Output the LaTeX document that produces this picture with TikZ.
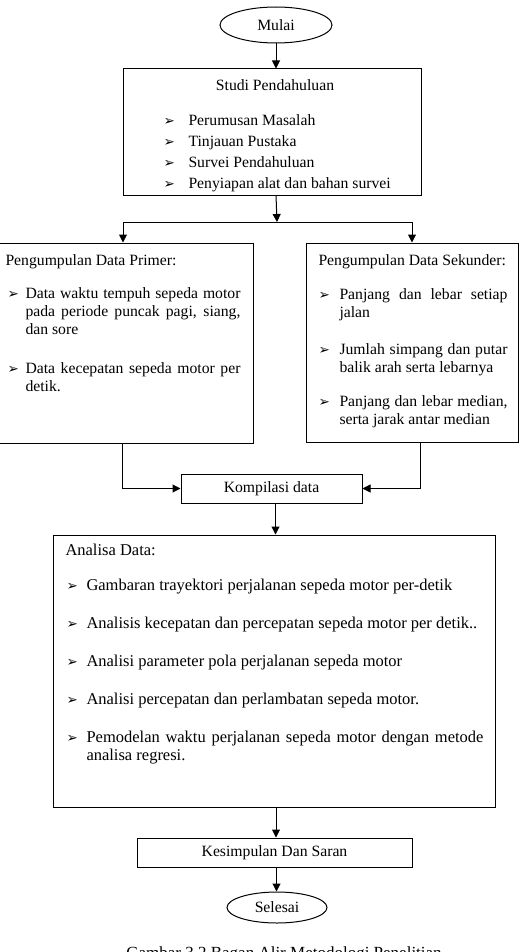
\documentclass[tikz,border=0pt]{standalone}
\usepackage{fontspec}
\setmainfont{Liberation Serif}
\newfontfamily\symfont{DejaVu Sans}
\usetikzlibrary{shapes.geometric,arrows.meta}

\setlength{\parindent}{0pt}
\newcommand{\arrbul}{{\symfont\fontsize{13.5}{13.5}\selectfont ➢}}
\newcommand{\butir}[3]{\hangindent=#1\hangafter=1\noindent\makebox[#1][l]{\hspace{#2}\arrbul}#3\par}

\begin{document}
\begin{tikzpicture}[x = 1pt, y = -1pt, line width = 1pt,
    font = \fontsize{15.7}{18}\selectfont,
    >= {Triangle[length = 8pt, width = 8pt]},
    kotak/.style = {draw, rectangle, inner sep = 0pt},
    oval/.style = {draw, ellipse, inner sep = 0pt},
    isi/.style = {anchor = north west, inner sep = 0pt, align = justify}]
    \useasboundingbox (0,0) rectangle (520,952);

    % kotak bagan
    \node[oval, minimum width = 112pt, minimum height = 36pt] (mulai) at (276,25) {Mulai};
    \node[kotak, minimum width = 298pt, minimum height = 126pt] (studi) at (272,132) {};
    \node[kotak, minimum width = 254pt, minimum height = 200pt] (primer) at (126,343) {};
    \node[kotak, minimum width = 212pt, minimum height = 199pt] (sekunder) at (412,342.5) {};
    \node[kotak, minimum width = 181pt, minimum height = 29pt] (kompilasi) at (271.5,488.5) {Kompilasi data};
    \node[kotak, minimum width = 442pt, minimum height = 272pt] (analisa) at (274,671) {};
    \node[kotak, minimum width = 275pt, minimum height = 29pt] (kesimpulan) at (274.5,852.5) {Kesimpulan Dan Saran};
    \node[oval, minimum width = 100pt, minimum height = 31pt] (selesai) at (277,907.5) {Selesai};

    % isi kotak
    \node[inner sep = 0pt] (studijudul) at (275,85) {Studi Pendahuluan};
    \node[isi, text width = 255pt, font = \fontsize{15.7}{21}\selectfont] (studiisi) at (162,114) {%
        \butir{26pt}{1pt}{Perumusan Masalah}%
        \butir{26pt}{1pt}{Tinjauan Pustaka}%
        \butir{26pt}{1pt}{Survei Pendahuluan}%
        \butir{26pt}{1pt}{Penyiapan alat dan bahan survei}};
    \node[isi, text width = 235pt] (primerisi) at (5,254) {%
        Pengumpulan Data Primer:\par\vspace{15pt}%
        \butir{20pt}{2pt}{Data waktu tempuh sepeda motor pada periode puncak pagi, siang, dan sore}\vspace{21pt}%
        \butir{20pt}{2pt}{Data kecepatan sepeda motor per detik.}};
    \node[isi, text width = 197pt] (sekunderisi) at (310,254) {%
        \hspace{8pt}Pengumpulan Data Sekunder:\par\vspace{16pt}%
        \butir{29pt}{8pt}{Panjang dan lebar setiap jalan}\vspace{19pt}%
        \butir{29pt}{8pt}{Jumlah simpang dan putar balik arah serta lebarnya}\vspace{16pt}%
        \butir{29pt}{8pt}{Panjang dan lebar median, serta jarak antar median}};
    \node[isi, text width = 418pt, font = \fontsize{16.5}{18}\selectfont] (analisaisi) at (65,544) {%
        Analisa Data:\par\vspace{17pt}%
        \butir{21pt}{1pt}{Gambaran trayektori perjalanan sepeda motor per-detik}\vspace{20pt}%
        \butir{21pt}{1pt}{Analisis kecepatan dan percepatan sepeda motor per detik..}\vspace{20pt}%
        \butir{21pt}{1pt}{Analisi parameter pola perjalanan sepeda motor}\vspace{20pt}%
        \butir{21pt}{1pt}{Analisi percepatan dan perlambatan sepeda motor.}\vspace{20pt}%
        \butir{21pt}{1pt}{Pemodelan waktu perjalanan sepeda motor dengan metode analisa regresi.}};
    \node[anchor = north, inner sep = 0pt, font = \fontsize{17}{20}\selectfont] (keterangan) at (284,946) {Gambar 3.2 Bagan Alir Metodologi Penelitian};

    % panah
    \coordinate (cabang) at (277,222);
    \coordinate (cabangkiri) at (123,222);
    \coordinate (cabangkanan) at (412,222);
    \draw[->] (mulai.south) -- (mulai.south |- studi.north);
    \draw[->] (mulai.south |- studi.south) -- (cabang);
    \draw (cabangkiri) -- (cabangkanan);
    \draw[->] (cabangkiri) -- (cabangkiri |- primer.north);
    \draw[->] (cabangkanan) -- (cabangkanan |- sekunder.north);
    \draw[->] ([xshift = -4pt]primer.south) |- (kompilasi.west);
    \draw[->] ([xshift = 8pt]sekunder.south) |- (kompilasi.east);
    \draw[->] ([xshift = 4pt]kompilasi.south) -- ([xshift = 4pt]kompilasi.south |- analisa.north);
    \draw[->] ([xshift = 2pt]analisa.south) -- ([xshift = 2pt]analisa.south |- kesimpulan.north);
    \draw[->] ([xshift = 2pt]kesimpulan.south) -- ([xshift = 2pt]kesimpulan.south |- selesai.north);
\end{tikzpicture}
\end{document}
